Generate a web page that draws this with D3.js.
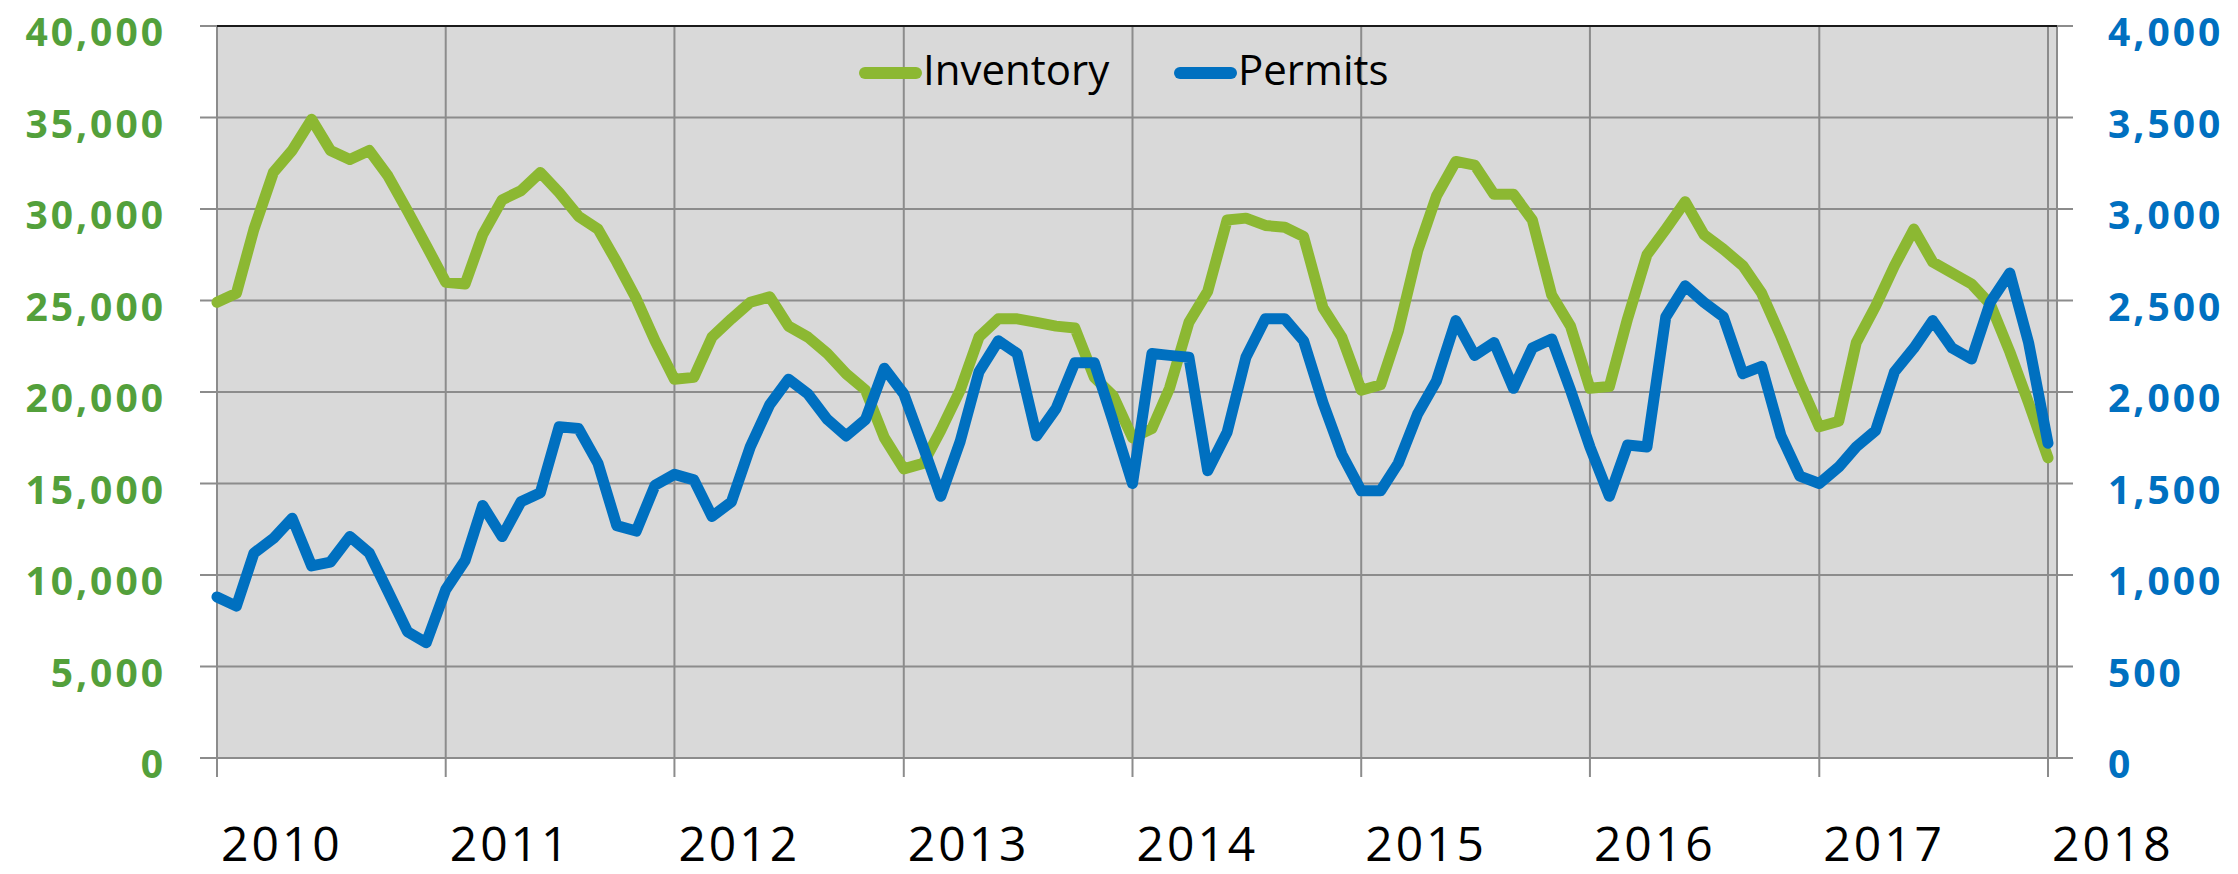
<!DOCTYPE html>
<html>
<head>
<meta charset="utf-8">
<script src="https://cdn.jsdelivr.net/npm/d3@7"></script>
<style>
  body { margin: 0; background: #fff; }
  svg text { font-family: "Open Sans", "Noto Sans", sans-serif; }
</style>
</head>
<body>
<svg id="chart" width="2238" height="874"></svg>
<script>
// monthly, Jan 2010 .. Jan 2018
const months = d3.timeMonth.range(new Date(2010, 0, 1), new Date(2018, 1, 1));
const years = [2010, 2011, 2012, 2013, 2014, 2015, 2016, 2017, 2018];

const inventory = [
  24900, 25400, 28900, 32000, 33200, 34900, 33200, 32700, 33200, 31800, 29900, 28000,
  26000, 25900, 28600, 30500, 31000, 32000, 30900, 29600, 28900, 27100, 25100, 22800,
  20700, 20800, 23000, 24000, 24900, 25200, 23600, 23000, 22100, 21000, 20100, 17500,
  15800, 16100, 17900, 20100, 23000, 24000, 24000, 23800, 23600, 23500, 20800, 19800,
  17500, 18000, 20200, 23800, 25500, 29400, 29500, 29100, 29000, 28500, 24600, 23000,
  20100, 20400, 23300, 27700, 30700, 32600, 32400, 30800, 30800, 29400, 25300, 23600,
  20200, 20300, 24000, 27500, 28900, 30400, 28600, 27800, 26900, 25400, 23000, 20500,
  18100, 18400, 22700, 24700, 26900, 28900, 27100, 26500, 25900, 24800, 22200, 19400,
  16400
];

const permits = [
  880, 830, 1120, 1200, 1310, 1050, 1070, 1210, 1120, 910, 690, 630,
  920, 1080, 1380, 1210, 1400, 1450, 1810, 1800, 1610, 1270, 1240, 1490,
  1550, 1520, 1320, 1400, 1700, 1930, 2070, 1990, 1850, 1760, 1850, 2130,
  1990, 1700, 1430, 1730, 2110, 2280, 2210, 1760, 1910, 2160, 2160, 1840,
  1500, 2210, 2200, 2190, 1570, 1780, 2190, 2400, 2400, 2280, 1940, 1660,
  1460, 1460, 1610, 1880, 2060, 2390, 2200, 2270, 2020, 2240, 2290, 2010,
  1700, 1430, 1710, 1700, 2410, 2580, 2490, 2410, 2100, 2140, 1760, 1540,
  1500, 1590, 1700, 1790, 2110, 2240, 2390, 2240, 2180, 2490, 2650, 2270,
  1720
];

const leftTicks = d3.range(0, 40001, 5000);
const rightTicks = d3.range(0, 4001, 500);

const green = "#8cb832";
const greenLabel = "#53a03b";
const blue = "#0070c0";
const gridColor = "#8c8c8c";

const svg = d3.select("#chart");

const plot = { left: 217, right: 2057, top: 26, bottom: 758 };

const x = d3.scaleTime()
  .domain([new Date(2010, 0, 1), new Date(2018, 0, 1)])
  .range([217, 2048]);
const yL = d3.scaleLinear().domain([0, 40000]).range([plot.bottom, plot.top]);
const yR = d3.scaleLinear().domain([0, 4000]).range([plot.bottom, plot.top]);

// plot background
svg.append("rect")
  .attr("x", plot.left).attr("y", plot.top)
  .attr("width", plot.right - plot.left)
  .attr("height", plot.bottom - plot.top)
  .attr("fill", "#d9d9d9");

// horizontal gridlines + outer tick marks on both sides
svg.append("g").selectAll("line")
  .data(leftTicks).enter()
  .append("line")
    .attr("x1", plot.left - 17).attr("x2", plot.right + 16)
    .attr("y1", d => yL(d)).attr("y2", d => yL(d))
    .attr("stroke", gridColor).attr("stroke-width", 2);

// vertical year gridlines with ticks below the axis
const yearDates = years.map(y => new Date(y, 0, 1));
svg.append("g").selectAll("line")
  .data(yearDates).enter()
  .append("line")
    .attr("x1", d => x(d)).attr("x2", d => x(d))
    .attr("y1", plot.top).attr("y2", plot.bottom + 19)
    .attr("stroke", gridColor).attr("stroke-width", 2);

// right border of plot area
svg.append("line")
  .attr("x1", plot.right).attr("x2", plot.right)
  .attr("y1", plot.top).attr("y2", plot.bottom)
  .attr("stroke", gridColor).attr("stroke-width", 2);

// top border
svg.append("line")
  .attr("x1", plot.left).attr("x2", plot.right)
  .attr("y1", plot.top).attr("y2", plot.top)
  .attr("stroke", "#1a1a1a").attr("stroke-width", 2);

// left axis labels
svg.append("g").selectAll("text")
  .data(leftTicks).enter()
  .append("text")
    .attr("x", 166)
    .attr("y", d => yL(d) + 20)
    .attr("text-anchor", "end")
    .attr("fill", greenLabel)
    .attr("font-size", 39)
    .attr("font-weight", "bold")
    .attr("letter-spacing", 3)
    .text(d3.format(","));

// right axis labels
svg.append("g").selectAll("text")
  .data(rightTicks).enter()
  .append("text")
    .attr("x", 2108)
    .attr("y", d => yR(d) + 20)
    .attr("fill", blue)
    .attr("font-size", 39)
    .attr("font-weight", "bold")
    .attr("letter-spacing", 3)
    .text(d3.format(","));

// year labels
svg.append("g").selectAll("text")
  .data(yearDates).enter()
  .append("text")
    .attr("x", d => x(d) + 4)
    .attr("y", 861)
    .attr("fill", "#000")
    .attr("font-size", 48)
    .attr("letter-spacing", 3)
    .text(d => d.getFullYear());

// lines
const lineL = d3.line()
  .x((d, i) => x(months[i]))
  .y(d => yL(d));
const lineR = d3.line()
  .x((d, i) => x(months[i]))
  .y(d => yR(d));

svg.append("path")
  .datum(inventory)
  .attr("d", lineL)
  .attr("fill", "none")
  .attr("stroke", green)
  .attr("stroke-width", 11)
  .attr("stroke-linejoin", "round")
  .attr("stroke-linecap", "round");

svg.append("path")
  .datum(permits)
  .attr("d", lineR)
  .attr("fill", "none")
  .attr("stroke", blue)
  .attr("stroke-width", 11)
  .attr("stroke-linejoin", "round")
  .attr("stroke-linecap", "round");

// legend
const legend = [
  { name: "Inventory", color: green, x: 865 },
  { name: "Permits", color: blue, x: 1180 }
];
const lg = svg.append("g");
lg.selectAll("line")
  .data(legend).enter()
  .append("line")
    .attr("x1", d => d.x).attr("x2", d => d.x + 51)
    .attr("y1", 73).attr("y2", 73)
    .attr("stroke", d => d.color)
    .attr("stroke-width", 12)
    .attr("stroke-linecap", "round");
lg.selectAll("text")
  .data(legend).enter()
  .append("text")
    .attr("x", d => d.x + 58)
    .attr("y", 85)
    .attr("font-size", 42)
    .attr("fill", "#000")
    .text(d => d.name);
</script>
</body>
</html>
